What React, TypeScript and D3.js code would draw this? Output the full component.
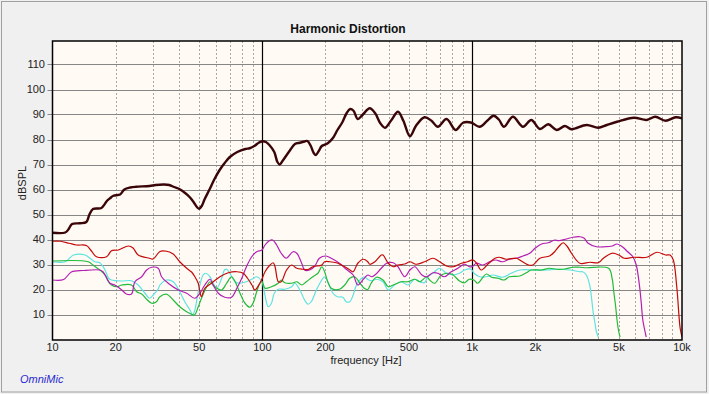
import React from "react";
import * as d3 from "d3";

const W = 709;
const H = 394;

const yTicks = [10, 20, 30, 40, 50, 60, 70, 80, 90, 100, 110];
const xTickValues = [10, 20, 50, 100, 200, 500, 1000, 2000, 5000, 10000];
const xTickLabels = ["10", "20", "50", "100", "200", "500", "1k", "2k", "5k", "10k"];

const mainData: [number, number][] = [
  [10, 42.7], [11.5, 42.8], [11.9, 44], [12.4, 46.2], [13.5, 46.5], [14.5, 47], [15.0, 50], [15.6, 52.2],
  [17.0, 52.5], [17.5, 53.5], [18.2, 55.5], [18.8, 56.5], [19.5, 57.5], [21, 58], [22, 60], [23.5, 60.8],
  [25, 61.1], [29, 61.4], [31, 61.8], [34, 62], [36, 61.8], [38, 61], [40, 60.3], [43, 58.5], [45, 57],
  [47, 55], [49, 52.8], [50, 52.3], [51.5, 53.5], [53, 56], [56, 60], [59, 64], [62.6, 67.8], [66, 70.5],
  [70, 73], [76, 75], [83, 76.2], [87, 76.5], [92, 77.5], [96, 78.7], [100, 79.3], [104, 79], [108, 77.8],
  [114, 75], [118, 71], [121, 70], [125, 71.5], [135, 75.5], [143, 78.2], [151, 78.7], [159, 79.2],
  [164, 79.4], [170, 77.5], [176, 74.5], [180, 73.8], [186, 75.5], [192, 77.4], [205, 78.5], [217, 80.6],
  [228, 83.8], [241, 87], [252, 90.5], [262, 92.2], [272, 91.5], [285, 88.2], [300, 89.8], [325, 92.5],
  [345, 90.5], [365, 86.5], [384, 84.7], [410, 87.5], [443, 91.1], [470, 87.5], [505, 81.3], [540, 85.5],
  [593, 88.9], [640, 87.5], [686, 85.1], [755, 88.2], [834, 83.8], [904, 86.7], [986, 86.8], [1085, 85.1],
  [1180, 87.5], [1265, 89.5], [1340, 88], [1418, 85.1], [1563, 89.1], [1747, 85.1], [1913, 87.8],
  [2103, 84.2], [2306, 86.1], [2528, 83.8], [2766, 85.4], [2974, 84.1], [3507, 85.8], [3989, 84.7],
  [4377, 85.8], [4902, 87.1], [5900, 88.7], [6790, 87.8], [7460, 89.1], [8350, 87.5], [9330, 88.9], [10000, 88.5],
];

const redData: [number, number][] = [
  [10, 39.3], [10.9, 39.3], [12, 38.5], [13, 37.8], [14.5, 37.6], [15.3, 35.5], [16.2, 33.1], [18.1, 33.1],
  [19.1, 35.5], [20.6, 35.8], [23, 37.4], [24.2, 36.6], [25.6, 33.8], [29, 32.5], [30.2, 32.2], [32.5, 35.2],
  [35, 35.3], [37.6, 34.2], [40.4, 31.1], [43.6, 28.5], [46, 27], [47.7, 25.1], [49.5, 22.5], [50.4, 19.1],
  [51.3, 17.1], [53.2, 20.5], [57.2, 22.5], [62.8, 25.1], [68.9, 26.7], [75.6, 27.1], [81.2, 26.5],
  [85, 24.5], [89.2, 21.8], [92.2, 19.8], [97.3, 22.5], [100, 24.5], [103, 27.1], [108, 29.5], [112.7, 30.7],
  [115, 29.1], [119.2, 23.1], [123, 23.1], [130.4, 27.8], [137.9, 29.8], [145.9, 28.5], [156, 28.1],
  [165, 28], [174, 29.1], [192, 29.8], [198, 31.1], [210, 31.1], [225, 30.7], [247, 29.1], [261, 27.8],
  [271, 27.1], [285, 30.5], [303, 32.1], [318, 31.1], [325, 30.1], [344, 31.1], [369, 33.8], [376, 33.8],
  [398, 30.5], [421, 29.1], [443, 29.8], [477, 30.2], [505, 31.1], [541, 30.1], [593, 31.1], [650, 32.5],
  [700, 31.1], [755, 29.4], [812, 29.1], [890, 30.5], [950, 31.1], [1010, 31.8], [1050, 30.5], [1105, 27.8],
  [1200, 30.5], [1285, 32.5], [1346, 32.9], [1450, 32.1], [1623, 32.5], [1686, 31.8], [1857, 29.8],
  [1947, 29.8], [2103, 32.5], [2338, 33.4], [2472, 35.1], [2583, 37.1], [2715, 38.7], [2850, 37],
  [2974, 34.5], [3260, 30.5], [3642, 30.9], [3989, 30.7], [4222, 32.5], [4644, 34.5], [4997, 33.8],
  [5297, 32.5], [5900, 32.9], [6790, 32.9], [7590, 34.9], [8350, 33.8], [8770, 33.8], [9090, 31.8],
  [9440, 21.1], [9800, 4.5], [10000, 1],
];

const magentaData: [number, number][] = [
  [10, 23.8], [11.3, 24], [12.3, 27], [14, 27.6], [16.8, 27.8], [17.4, 27.1], [18.8, 22.5], [19.8, 21.8],
  [21.4, 19.8], [22.5, 18.2], [23.8, 18.2], [24.7, 23.1], [26.6, 25.1], [28.1, 27.8], [29.7, 28.9],
  [31.9, 28.5], [33.1, 25.1], [35.6, 22.5], [39.8, 19.8], [43.6, 18.5], [47.7, 16.5], [50.4, 18.5],
  [53.2, 21.8], [56.3, 24.1], [58.3, 21.8], [61.7, 18.5], [66.2, 16.9], [71.3, 16.9], [75.6, 20.5],
  [79.8, 24.5], [84, 29.1], [89, 33.1], [94, 35.1], [99.6, 35.8], [103, 37.8], [108, 39.5], [112, 39.8],
  [117, 37.8], [123, 34.5], [130, 32.5], [140, 35.1], [146, 34.5], [154, 30.5], [159, 27.8], [168, 27.8],
  [178, 29.4], [187, 32.5], [201, 33.4], [213, 32.5], [233, 30.5], [251, 28.1], [271, 25.8], [285, 21.8],
  [303, 24.1], [318, 25.8], [332, 25.1], [344, 25.8], [369, 28.5], [391, 30.5], [421, 30.7], [443, 29.1],
  [477, 25.1], [505, 27.8], [533, 29.1], [576, 25.8], [607, 25.1], [650, 26.7], [686, 26.5], [737, 25.1],
  [795, 27.1], [855, 28.5], [920, 30.1], [968, 29.1], [1000, 29.1], [1046, 30.5], [1124, 29.8],
  [1211, 31.1], [1295, 31.8], [1395, 31.1], [1502, 32.1], [1623, 32.5], [1747, 33.4], [1881, 34.5],
  [1993, 36.5], [2143, 38.2], [2306, 38.7], [2472, 39.8], [2583, 39.5], [2810, 40.2], [3023, 40.9],
  [3260, 41.1], [3420, 40.5], [3570, 38.5], [3915, 37.1], [4300, 37.1], [4644, 37.4], [4902, 38.2],
  [5192, 37.1], [5511, 35.1], [5832, 33.1], [6053, 29.8], [6280, 21.1], [6397, 14.5], [6505, 7.8], [6755, 1],
];

const greenData: [number, number][] = [
  [10, 31.4], [14.8, 31.1], [15.6, 29.8], [16.8, 27.8], [17.8, 25.8], [18.5, 23.1], [19.1, 21.8],
  [20.2, 21.1], [21.4, 21.8], [23.8, 21.8], [25.2, 19.1], [26.6, 18.2], [28.1, 16.1], [29.7, 14.5],
  [31.3, 15.1], [32.5, 17.1], [35, 18.1], [37.6, 15.8], [40.4, 13.1], [43.6, 11.1], [46, 10.1], [47.5, 9.8],
  [49.5, 13.1], [51.3, 16.5], [54.3, 21.1], [56.3, 23.1], [58.3, 21.8], [60.7, 20.5], [64, 19.8],
  [67.6, 22.5], [71.3, 25.1], [74.2, 23.1], [78.3, 18.5], [82.7, 14.5], [87.3, 12.9], [90.3, 14.5],
  [94, 19.1], [97.3, 22.5], [99.8, 23.1], [103, 20.5], [110.5, 21.1], [119, 22.5], [123, 23.8], [128, 22.7],
  [138, 22.5], [146, 23.1], [154, 21.8], [162, 23.1], [174, 25.1], [184, 26.5], [192, 29.1], [198, 27.1],
  [205, 23.1], [213, 20.5], [233, 20.1], [247, 21.8], [261, 24.5], [275, 25.1], [292, 22.5], [306, 20.5],
  [318, 20.0], [330, 22.5], [350, 24.9], [376, 23.8], [398, 21.1], [421, 21.8], [459, 23.1], [494, 23.1],
  [533, 24.1], [563, 23.1], [607, 25.1], [627, 23.8], [663, 22.5], [713, 25.8], [768, 26.5], [812, 25.8],
  [870, 23.4], [920, 22.7], [968, 24.1], [1020, 23.8], [1062, 22.5], [1168, 26.2], [1238, 24.9],
  [1330, 24.5], [1420, 23.8], [1502, 25.1], [1686, 25.4], [1810, 26.7], [1913, 27.8], [2143, 27.8],
  [2338, 28.5], [2528, 28.1], [2766, 28.2], [3023, 28.9], [3260, 28.9], [3500, 28.7], [4470, 28.5],
  [4644, 24.5], [4730, 19.1], [4830, 13.1], [4902, 7.8], [4996, 3.1], [5070, 1],
];

const cyanData: [number, number][] = [
  [10, 31.1], [11.5, 31.1], [12.6, 33.8], [14.3, 33.8], [15.1, 32.5], [15.9, 31.1], [16.8, 30.7],
  [17.8, 27.8], [18.5, 24.5], [19.1, 23.8], [21.4, 23.4], [23.8, 23.5], [25.6, 21.8], [27.6, 18.5],
  [29, 16.5], [30.2, 17.8], [31.9, 20.2], [32.5, 21.8], [35, 23.8], [37.6, 23.1], [40.4, 19.1],
  [42.7, 15.1], [45.2, 11.8], [46.4, 9.8], [47.7, 11.8], [49, 17.1], [50.4, 21.8], [52.2, 25.8],
  [53.6, 26.5], [56.3, 25.1], [58.3, 22.5], [60.6, 20.5], [64, 24.5], [66, 27.8], [67.6, 28.1], [70, 26.5],
  [74.2, 23.1], [78.3, 22.5], [84, 23.1], [89, 24.1], [94, 25.1], [99.6, 23.1], [101.5, 20.5], [104, 15.8],
  [106.7, 13.1], [110.5, 14.5], [114, 18.5], [119, 20.1], [128, 20.1], [138, 21.1], [143, 22.5], [151, 19.8],
  [159, 15.8], [165, 14.1], [171, 15.1], [181, 19.8], [192, 23.8], [198, 25.1], [205, 23.1], [217, 18.5],
  [228, 17.1], [242, 16.9], [251, 15.1], [261, 15.1], [271, 17.8], [281, 21.8], [297, 24.5], [306, 25.1],
  [318, 24], [332, 23.5], [350, 24.1], [376, 23.1], [398, 19.8], [427, 21.8], [459, 23.1], [494, 21.8],
  [533, 24.1], [563, 23.1], [593, 22.7], [614, 25.1], [650, 26.5], [700, 28.5], [755, 26.5], [812, 25.8],
  [870, 26.5], [920, 27.8], [988, 28.1], [1020, 26.5], [1085, 25.1], [1168, 25.1], [1257, 25.8],
  [1395, 24.9], [1535, 26.5], [1686, 27.8], [1993, 27.8], [2263, 27.8], [2528, 28.1], [2926, 27.8],
  [3260, 27.1], [3360, 27.1], [3500, 25.8], [3630, 21.8], [3700, 17.1], [3770, 11.1], [3850, 6.5],
  [3910, 3.1], [3990, 1],
];

const seriesList = [
  { data: cyanData, color: "#5ee3e3", width: 1.2 },
  { data: greenData, color: "#22bb3a", width: 1.2 },
  { data: magentaData, color: "#b21fb2", width: 1.2 },
  { data: redData, color: "#c40a0a", width: 1.2 },
];

const FONT = "'Liberation Sans', Arial, sans-serif";

export default function App() {
  const left = 52.5, right = 682, top = 41, bottom = 340;
  const x = d3.scaleLog().domain([10, 10000]).range([left, right]);
  const y = d3.scaleLinear().domain([0, 119.6]).range([339.5, 339.5 - 119.6 * 2.5]);

  const line = d3
    .line<[number, number]>()
    .x((d) => x(d[0]))
    .y((d) => y(d[1]))
    .curve(d3.curveCatmullRom.alpha(0.5));

  const minor: number[] = [];
  [10, 100, 1000].forEach((dec) => {
    for (let k = 2; k <= 9; k++) minor.push(dec * k);
  });

  return (
    <svg
      width={W}
      height={H}
      style={{ position: "absolute", left: 0, top: 0, display: "block" }}
      fontFamily={FONT}
    >
      <defs>
        <clipPath id="plotclip">
          <rect x={left} y={top} width={right - left} height={bottom - top} />
        </clipPath>
      </defs>
      <rect x={0} y={0} width={W} height={H} fill="#f0f0f0" />
      <rect x={1.5} y={1.5} width={705} height={390.5} fill="none" stroke="#a0a0a0" strokeWidth={1} />
      <rect x={left} y={top} width={right - left} height={bottom - top} fill="#fffaf3" />

      {minor.map((f) => (
        <line
          key={"m" + f}
          x1={Math.round(x(f)) + 0.5}
          x2={Math.round(x(f)) + 0.5}
          y1={top}
          y2={bottom}
          stroke="#a8a8a8"
          strokeWidth={1}
          strokeDasharray="2,2"
        />
      ))}
      {yTicks.map((v) => (
        <line
          key={"y" + v}
          x1={left - 5}
          x2={right}
          y1={Math.round(y(v)) + 0.5}
          y2={Math.round(y(v)) + 0.5}
          stroke="#868686"
          strokeWidth={1}
        />
      ))}
      {[100, 1000].map((f) => (
        <line
          key={"M" + f}
          x1={Math.round(x(f)) + 0.5}
          x2={Math.round(x(f)) + 0.5}
          y1={top}
          y2={bottom}
          stroke="#000"
          strokeWidth={1.2}
        />
      ))}

      <g clipPath="url(#plotclip)">
        {seriesList.map((s, i) => (
          <path key={i} d={line(s.data) || ""} fill="none" stroke={s.color} strokeWidth={s.width} />
        ))}
        <path d={line(mainData) || ""} fill="none" stroke="#3a0508" strokeWidth={2.4} strokeLinejoin="round" />
      </g>

      <rect x={left} y={top} width={right - left} height={bottom - top} fill="none" stroke="#000" strokeWidth={1.5} />

      {yTicks.map((v) => (
        <text key={"yl" + v} x={45} y={y(v)} dy="0.35em" textAnchor="end" fontSize={11} fill="#222">
          {v}
        </text>
      ))}
      {xTickValues.map((f, i) => (
        <text key={"xl" + f} x={x(f)} y={351} textAnchor="middle" fontSize={11} fill="#222">
          {xTickLabels[i]}
        </text>
      ))}

      <text x={348} y={32.5} textAnchor="middle" fontSize={12} fontWeight="bold" fill="#111">
        Harmonic Distortion
      </text>
      <text x={366} y={364} textAnchor="middle" fontSize={11} fill="#222">
        frequency [Hz]
      </text>
      <text
        transform="translate(26,183) rotate(-90)"
        textAnchor="middle"
        fontSize={11}
        fill="#222"
      >
        dBSPL
      </text>
      <text x={20} y={383} fontSize={11} fontStyle="italic" fill="#2a2ad0">
        OmniMic
      </text>
    </svg>
  );
}
